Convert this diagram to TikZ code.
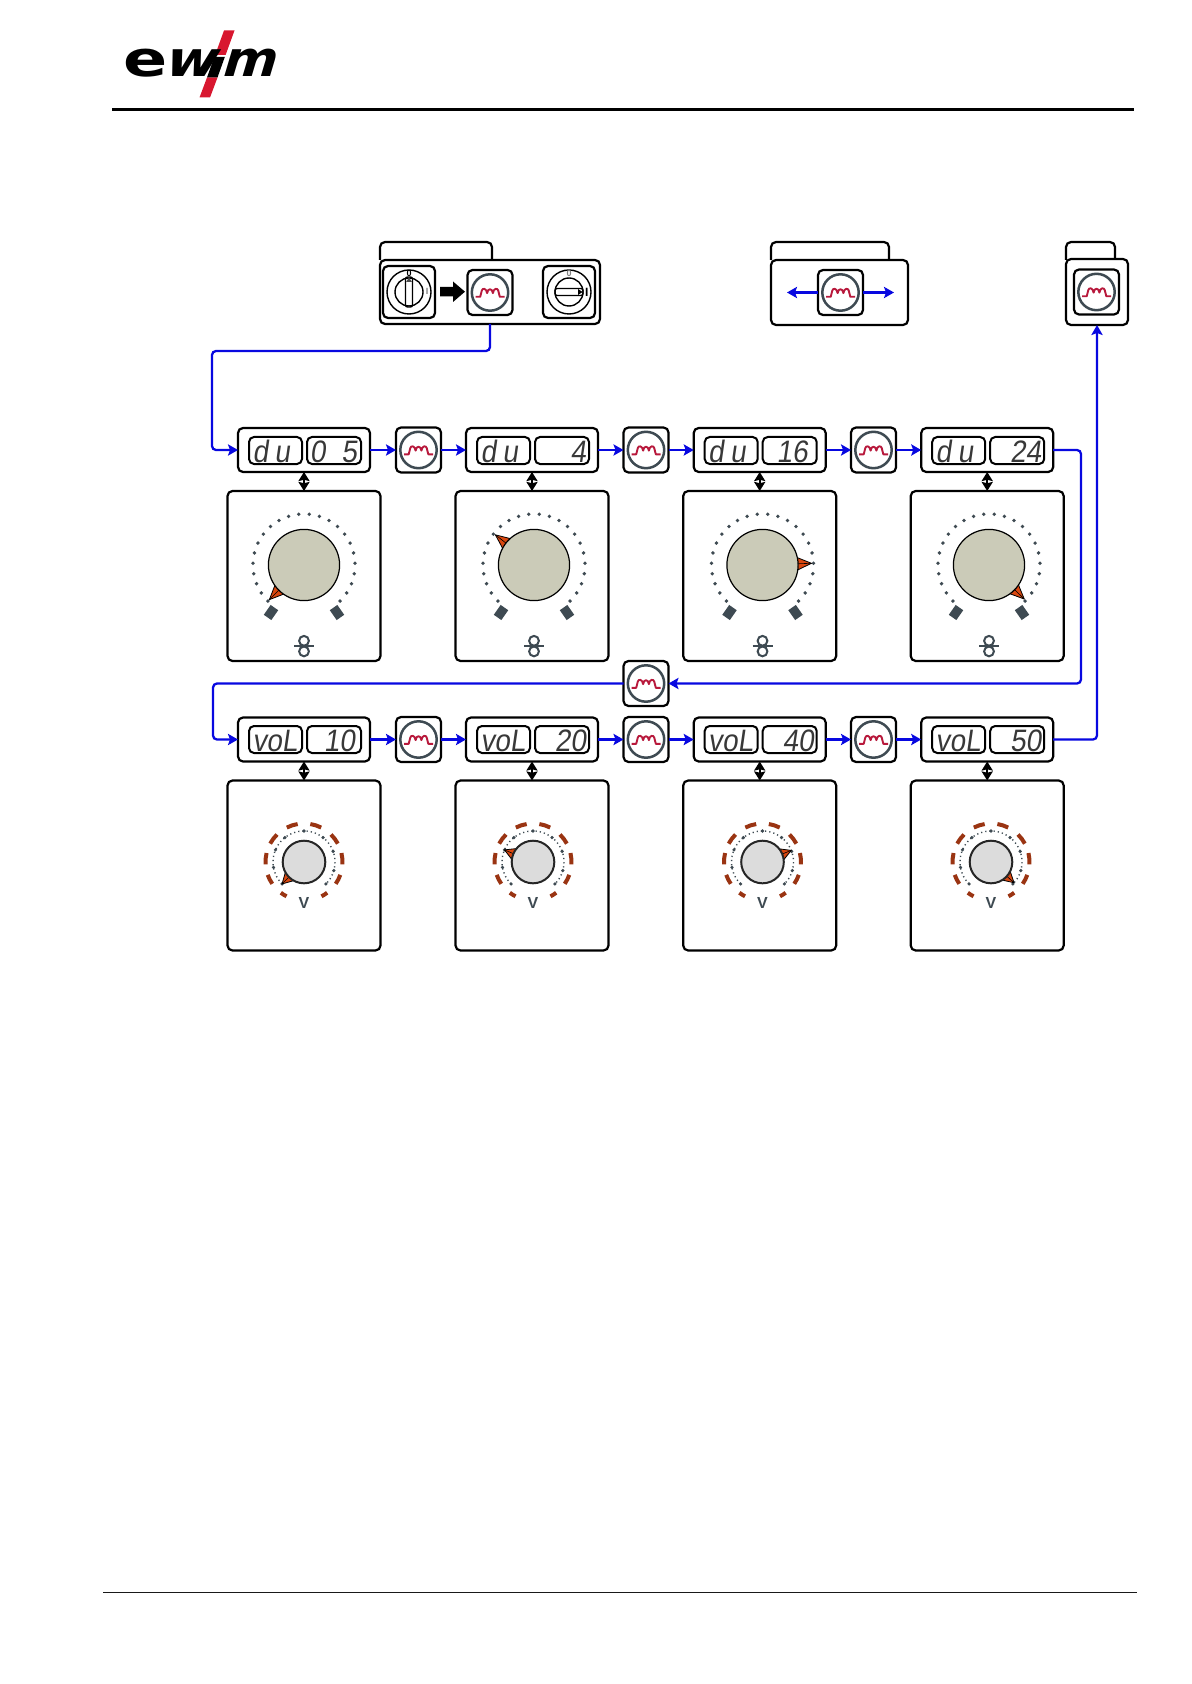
\documentclass[tikz,border=0pt]{standalone}
\usepackage{fontspec}
\setmainfont{Liberation Sans}
\newfontfamily\lcd[FakeSlant=0.16]{Liberation Sans}
\newfontfamily\logofont{DejaVu Sans}
\usetikzlibrary{arrows.meta}
\definecolor{blueline}{HTML}{0808E0}
\definecolor{ring}{HTML}{3E4A52}
\definecolor{wave}{HTML}{B8193C}
\definecolor{knobA}{HTML}{CBCBB8}
\definecolor{knobB}{HTML}{DCDCDC}
\definecolor{orangeP}{HTML}{D9470F}
\definecolor{brownR}{HTML}{9A3412}
\definecolor{logored}{HTML}{D8172F}
\tikzset{
  box/.style={draw=black,line width=1.1pt,rounded corners=2.5pt,inner sep=0pt,outer sep=0pt,fill=white},
  dispbox/.style={box,minimum width=66pt,minimum height=22pt},
  lcdin/.style={draw=black,line width=1pt,rounded corners=2.5pt,inner sep=0pt,outer sep=0pt,minimum height=13.5pt},
  btnbox/.style={box,minimum width=22.5pt,minimum height=22.5pt},
  panelbox/.style={box,minimum width=76.5pt,minimum height=85pt},
  flow/.style={blueline,line width=1.15pt,rounded corners=2pt,-{Stealth[length=5pt,width=5.6pt,inset=1pt]}},
  dbl/.style={black,line width=1.1pt,{Stealth[length=4.5pt,width=5.5pt,inset=.6pt]}-{Stealth[length=4.5pt,width=5.5pt,inset=.6pt]}},
  lcdtxt/.style={inner sep=0pt,outer sep=0pt,text=black!78,font=\lcd\fontsize{15.5}{15.5}\selectfont,xscale=.9,transform shape},
  logotxt/.style={inner sep=0pt,outer sep=0pt,font=\logofont\bfseries\fontsize{24.5}{24.5}\selectfont,transform shape,anchor=base},
  swnum/.style={inner sep=0pt,font=\bfseries\fontsize{4.5}{4.5}\selectfont},
}
\newcommand{\btnicon}[2]{%
  \draw[ring,line width=1.25pt] (#1,#2) circle[radius=18.2];
  \begin{scope}[shift={(#1,#2)}]
  \draw[wave,line width=.95pt,line join=round] (-14.5,4.3) -- (-9.8,4.3) -- (-8.2,-2)
    .. controls (-7.6,-4.6) and (-3.6,-4.6) .. (-2.9,.6)
    .. controls (-2.2,-4.6) and (2.2,-4.6) .. (2.9,.6)
    .. controls (3.6,-4.6) and (7.6,-4.6) .. (8.2,-2)
    -- (9.8,4.3) -- (14.5,4.3);
  \end{scope}}
\newcommand{\dialA}[3]{% cx, cy, pointer angle
  \begin{scope}[shift={(#1,#2)},y=.5pt]
    \foreach \k in {0,...,23} \fill[ring] ({225-\k*270/23}:51) circle[radius=1.9];
    \foreach \s in {-1,1} \fill[ring,shift={(\s*33,-47.5)},rotate={\s*35}] (-4.6,-6) rectangle (4.6,6);
    \draw[black,line width=.4pt,fill=orangeP,line join=round] (#3:49) -- (#3+13:33) -- (#3-13:33) -- cycle;
    \draw[black,line width=.3pt] (#3:49) -- (#3:33);
    \draw[black,line width=.6pt,fill=knobA] (0,0) circle[radius=35.6];
  \end{scope}}
\newcommand{\dialB}[3]{%
  \begin{scope}[shift={(#1,#2)},y=.5pt]
    \draw[ring,line width=.7pt,dash pattern=on .6pt off 1.5pt] (225:31) arc[start angle=225,end angle=-45,radius=31];
    \foreach \a in {225,190,157,128,90,52,20,-16,-45} \fill[ring] (\a:31) circle[radius=1.8];
    \foreach \a/\h in {238/5,207/7.5,175/8.5,143/8.5,108/8.5,72/8.5,37/8.5,5/8.5,-27/7.5,-58/5}
      \draw[brownR,line width=2pt] (\a-\h:38.5) arc[start angle=\a-\h,end angle=\a+\h,radius=38.5];
    \draw[black,line width=.4pt,fill=orangeP,line join=round] (#3:31) -- (#3+20:20) -- (#3-20:20) -- cycle;
    \draw[black,line width=.3pt] (#3:31) -- (#3:20);
    \draw[black!85,line width=1pt,fill=knobB] (0,0) circle[radius=21.3];
  \end{scope}}
\newcommand{\screw}[2]{%
  \draw[ring,line width=1pt] (#1,#2-5.2) circle[radius=4.9] (#1,#2+5.4) circle[radius=4.9];
  \draw[ring,line width=1pt] (#1-10,#2) -- (#1+10,#2);}
\begin{document}
\begin{tikzpicture}[x=.5pt,y=-.5pt]
\useasboundingbox (0,0) rectangle (1191,1684);
% header
\coordinate (hl) at (112,109.5); \coordinate (hr) at (1134,109.5);
\draw[black,line width=1.1pt] (hl) -- (hr);
\coordinate (fl) at (103,1592.5); \coordinate (fr) at (1137,1592.5);
\draw[black!90,line width=.6pt] (fl) -- (fr);
% logo
\fill[logored] (224,30.5) -- (234.5,30.5) -- (225.6,55) -- (215.1,55) -- cycle;
\fill[logored] (207,77.5) -- (217.5,77.5) -- (210,97.5) -- (199.5,97.5) -- cycle;
\node[logotxt,xscale=1.33] (logoe) at (146,77) {e};
\node[logotxt,xscale=1.16,xslant=.28] (logow) at (188.5,77) {w};
\node[logotxt,xscale=1.06,xslant=.28] (logom) at (248,77) {m};
\fill[black] (214.3,57) -- (224.8,57) -- (217.5,77.5) -- (207,77.5) -- cycle;
% top panels
\draw[box] (380,260) -- (380,242) -- (492,242) -- (492,260);
\node[box,minimum width=110pt,minimum height=32pt] (p1) at (490,292) {};
\node[box,minimum width=26pt,minimum height=26pt] (sw1) at (409,292) {};
\node[box,minimum width=26pt,minimum height=26pt] (sw2) at (569,292) {};
\node[btnbox] (pb1) at (490,292.5) {}; \btnicon{490}{292.5}
% left switch
\draw[black,line width=.7pt] (409,292) circle[radius=22] (409,292) circle[radius=14];
\draw[black,line width=.7pt,rounded corners=1pt] (405.5,277) rectangle (412.5,307);
\fill[black!70] (409,277.5) -- (412,282) -- (406,282) -- cycle;
\node[swnum,text=black] (sw1o) at (409,273.7) {0};
\node[swnum,text=black!50] (sw1i) at (427,291.7) {I};
% black arrow
\fill[black] (440,287) -- (453,287) -- (453,281.5) -- (465,291.7) -- (453,302) -- (453,296.5) -- (440,296.5) -- cycle;
% right switch
\draw[black,line width=.7pt] (569,292) circle[radius=22] (569,292) circle[radius=14];
\draw[black,line width=.7pt,rounded corners=1pt] (555,288.5) rectangle (583,295.5);
\fill[black] (582.5,292) -- (578,289) -- (578,295) -- cycle;
\node[swnum,text=black!50] (sw2o) at (569,273.7) {0};
\node[swnum,text=black,font=\bfseries\fontsize{6}{6}\selectfont] (sw2i) at (586.7,292) {I};
% panel 2
\draw[box] (771,260) -- (771,242) -- (889,242) -- (889,260);
\node[box,minimum width=68.5pt,minimum height=32.5pt] (p2) at (839.5,292.5) {};
\node[btnbox] (pb2) at (840.5,292.5) {}; \btnicon{840.5}{292.5}
\coordinate (al) at (787,292.5); \coordinate (ar) at (894,292.5);
\draw[flow] (pb2.west) -- (al);
\draw[flow] (pb2.east) -- (ar);
% panel 3
\draw[box] (1066,260) -- (1066,242) -- (1115,242) -- (1115,260);
\node[box,minimum width=31pt,minimum height=33pt] (p3) at (1097,292) {};
\node[btnbox] (pb3) at (1096.5,292) {}; \btnicon{1096.5}{292}
% rows
\foreach \i/\xx/\val/\re/\kx/\pa in {1/238/0\hspace{9pt}5/119/304/225, 2/466/4/120/534/142, 3/693.7/16/114/762.5/2, 4/921.2/24/120/989/-44}{
  \pgfmathsetmacro{\dx}{\xx+66}
  \pgfmathsetmacro{\lx}{\xx+37.5} \pgfmathsetmacro{\rx}{\xx+96}
  \pgfmathsetmacro{\tx}{\xx+\re} \pgfmathsetmacro{\labx}{\xx+14.5}
  \node[dispbox] (da\i) at (\dx,450) {};
  \node[lcdin,minimum width=26.5pt] (la\i) at (\lx,450.5) {};
  \node[lcdin,minimum width=27pt] (ra\i) at (\rx,450.5) {};
  \node[lcdtxt,anchor=base west] (ta\i) at (\labx,462) {d\kern3.6pt u};
  \node[lcdtxt,anchor=base east] (va\i) at (\tx,462) {\val};
  \node[panelbox] (pa\i) at (\dx,576) {};
  \dialA{\kx}{565}{\pa}
  \screw{\kx}{646}
  \draw[dbl] (da\i.south) -- (pa\i.north -| da\i.south);
}
\foreach \i/\xx/\val/\re/\kx/\pa in {1/238/10/117/304/225, 2/466/20/120/533/157, 3/693.7/40/120/762.5/22, 4/921.2/50/120/991/-42}{
  \pgfmathsetmacro{\dx}{\xx+66}
  \pgfmathsetmacro{\lx}{\xx+37.5} \pgfmathsetmacro{\rx}{\xx+96}
  \pgfmathsetmacro{\tx}{\xx+\re} \pgfmathsetmacro{\labx}{\xx+14.5}
  \node[dispbox] (db\i) at (\dx,739.5) {};
  \node[lcdin,minimum width=26.5pt] (lb\i) at (\lx,739.5) {};
  \node[lcdin,minimum width=27pt] (rb\i) at (\rx,739.5) {};
  \node[lcdtxt,anchor=base west] (tb\i) at (\labx,751) {voL};
  \node[lcdtxt,anchor=base east] (vb\i) at (\tx,751) {\val};
  \node[panelbox] (pb\i x) at (\dx,865.5) {};
  \dialB{\kx}{862}{\pa}
  \node[inner sep=0pt,text=ring,font=\bfseries\fontsize{8}{8}\selectfont] (vv\i) at (\kx,902.5) {V};
  \draw[dbl] (db\i.south) -- (pb\i x.north -| db\i.south);
}
% buttons
\foreach \i/\cx in {1/418.5,2/646,3/873.5}{
  \node[btnbox] (ba\i) at (\cx,450) {}; \btnicon{\cx}{450}
  \node[btnbox] (bb\i) at (\cx,739.5) {}; \btnicon{\cx}{739.5}
}
\node[btnbox] (bm) at (646,683.5) {}; \btnicon{646}{683.5}
% flows
\foreach \a/\b in {da1/ba1, ba1/da2, da2/ba2, ba2/da3, da3/ba3, ba3/da4, db1/bb1, bb1/db2, db2/bb2, bb2/db3, db3/bb3, bb3/db4}
  \draw[flow] (\a.east) -- (\b.west);
\coordinate (c1) at (212,351); \coordinate (c2) at (213,683.5); \coordinate (c3) at (1081,450);
\coordinate (c4) at (1097,739.5);
\draw[flow] (pb1.south |- p1.south) -- (490,351) -- (c1) -- (212,450) -- (da1.west);
\draw[flow] (da4.east) -- (c3) -- (1081,683.5) -- (bm.east);
\draw[flow] (bm.west) -- (c2) -- (213,739.5) -- (db1.west);
\draw[flow] (db4.east) -- (c4) -- (p3.south -| c4);
\end{tikzpicture}
\end{document}
